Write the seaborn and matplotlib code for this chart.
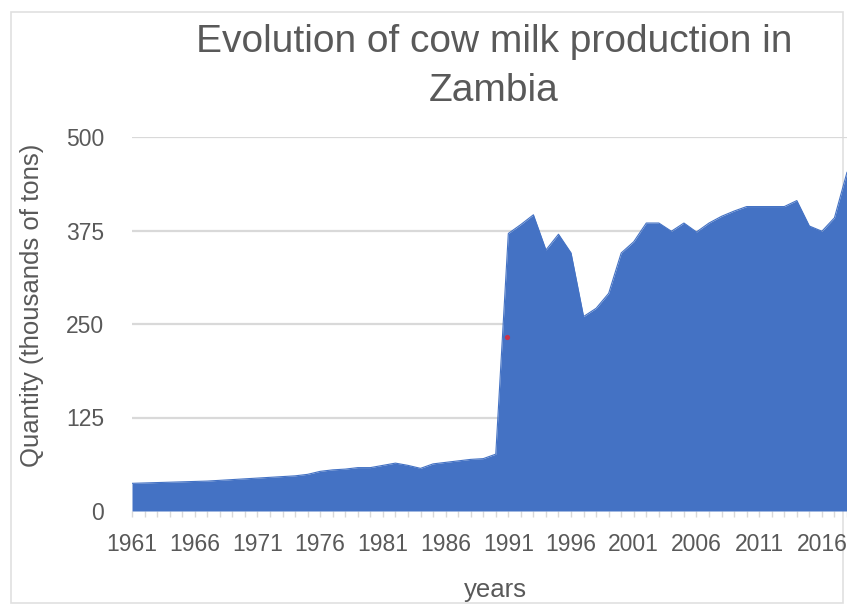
import numpy as np
import pandas as pd
import matplotlib
matplotlib.use("Agg")
import matplotlib.pyplot as plt
from matplotlib.patches import Rectangle
import seaborn as sns

# ---- data ----
years = list(range(1961, 2019))
quantity = [37, 37.5, 38, 38.5, 39, 39.5, 40, 41, 42, 43,
            44, 45, 46, 47, 49, 53, 55, 56, 58, 58,
            61, 64, 61, 57, 63, 65, 67, 69, 70, 76,
            371, 383, 396, 349, 370, 345, 260, 271, 291, 345,
            360, 385, 385, 374, 385, 373, 385, 394, 401, 407,
            407, 407, 407, 415, 381, 374, 392, 453]
y_ticks = [0, 125, 250, 375, 500]
x_tick_years = list(range(1961, 2017, 5))
marker_year = [1990.9]
marker_value = [233]

title_line1 = "Evolution of cow milk production in"
title_line2 = "Zambia"
y_label = "Quantity (thousands of tons)"
x_label = "years"

df = pd.DataFrame({"year": years, "quantity": quantity})

sns.set_theme(style="white")
plt.rcParams["font.family"] = ["Liberation Sans", "DejaVu Sans"]

W, H = 847, 606
fig = plt.figure(figsize=(W / 100, H / 100), dpi=100)
fig.patch.set_facecolor("white")

# chart border
fig.patches.append(Rectangle((11 / W, 1 - 603 / H), 832 / W, 591 / H,
                             transform=fig.transFigure, fill=False,
                             edgecolor="#e0e0e0", linewidth=1.2, zorder=-1))

ax = fig.add_axes([132 / W, 1 - 511 / H, (W - 132) / W, (511 - 137) / H])
ax.set_facecolor("none")

blue = "#4472C4"
sns.lineplot(data=df, x="year", y="quantity", ax=ax, color=blue, linewidth=0.8)
ax.fill_between(df["year"], 0, df["quantity"], color=blue, linewidth=0, zorder=2)
sns.scatterplot(x=marker_year, y=marker_value, ax=ax, color="#c8324a", s=14,
                linewidth=0, zorder=3)

ax.set_xlim(1961, 2018)
ax.set_ylim(0, 500)
ax.set_yticks(y_ticks)
ax.set_yticklabels([str(v) for v in y_ticks])
ax.set_xticks(x_tick_years)
ax.set_xticklabels([str(v) for v in x_tick_years])
ax.set_xticks(years, minor=True)

for yv in y_ticks[1:]:
    ax.axhline(yv, color="#d9d9d9", linewidth=1.6, zorder=1)

for s in ax.spines.values():
    s.set_visible(False)

ax.tick_params(axis="y", length=0, pad=20, labelsize=16.5, labelcolor="#595959")
ax.tick_params(axis="x", which="both", direction="out", length=4, width=1,
               color="#d9d9d9", bottom=True)
ax.tick_params(axis="x", which="major", pad=11.5, labelsize=16.5, labelcolor="#595959")
ax.set_xlabel("")
ax.set_ylabel("")

fig.text(494 / W, 1 - 42 / H, title_line1, ha="center", va="center",
         fontsize=28, color="#595959")
fig.text(494 / W, 1 - 91 / H, title_line2, ha="center", va="center",
         fontsize=28, color="#595959")
fig.text(32 / W, 1 - 305 / H, y_label, ha="center", va="center", rotation=90,
         fontsize=18.5, color="#595959")
fig.text(495 / W, 1 - 590 / H, x_label, ha="center", va="center",
         fontsize=18.5, color="#595959")

fig.savefig("out.png", dpi=100)
